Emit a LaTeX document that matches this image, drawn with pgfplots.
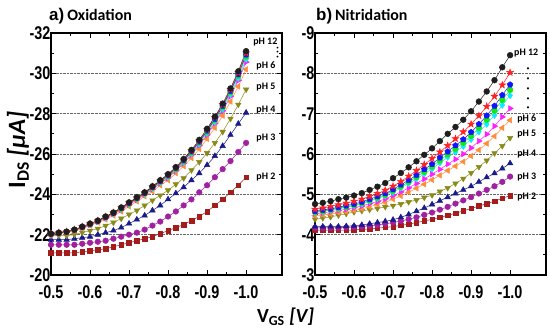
\documentclass[border=0pt]{standalone}
\usepackage{pgfplots}
\pgfplotsset{compat=1.18}
\usepackage{pgfplotstable}
\usepackage{fontspec}
\setmainfont{Carlito}
\newfontfamily\tickfont{Liberation Sans}[FakeStretch=0.78]
\newfontfamily\arialf{Liberation Sans}

\definecolor{c2}{HTML}{A51C1C}
\definecolor{c3}{HTML}{A020A0}
\definecolor{c4}{HTML}{1A1A8A}
\definecolor{c5}{HTML}{8A8A1A}
\definecolor{c6}{HTML}{FF8C3C}
\definecolor{c7}{HTML}{FF1EFF}
\definecolor{c8}{HTML}{14E6FF}
\definecolor{c9}{HTML}{14E614}
\definecolor{c10}{HTML}{1414FF}
\definecolor{c11}{HTML}{FF2020}
\definecolor{c12}{HTML}{1E1E1E}

\pgfdeclareplotmark{fstar}{%
  \pgfpathmoveto{\pgfpointpolar{90}{1.35\pgfplotmarksize}}%
  \pgfpathlineto{\pgfpointpolar{126}{0.55\pgfplotmarksize}}%
  \pgfpathlineto{\pgfpointpolar{162}{1.35\pgfplotmarksize}}%
  \pgfpathlineto{\pgfpointpolar{198}{0.55\pgfplotmarksize}}%
  \pgfpathlineto{\pgfpointpolar{234}{1.35\pgfplotmarksize}}%
  \pgfpathlineto{\pgfpointpolar{270}{0.55\pgfplotmarksize}}%
  \pgfpathlineto{\pgfpointpolar{306}{1.35\pgfplotmarksize}}%
  \pgfpathlineto{\pgfpointpolar{342}{0.55\pgfplotmarksize}}%
  \pgfpathlineto{\pgfpointpolar{18}{1.35\pgfplotmarksize}}%
  \pgfpathlineto{\pgfpointpolar{54}{0.55\pgfplotmarksize}}%
  \pgfpathclose\pgfusepathqfillstroke}

\pgfplotstableread{
x p2 p3 p4 p5 p6 p7 p8 p9 p10 p11 p12
-0.50 -21.1 -21.5 -21.75 -21.95 -22.0 -22.02 -22.03 -22.04 -22.04 -22.05 -22.05
-0.52 -21.1 -21.5 -21.75 -21.95 -22.05 -22.07 -22.08 -22.09 -22.09 -22.1 -22.1
-0.54 -21.1 -21.5 -21.75 -21.95 -22.1 -22.12 -22.13 -22.14 -22.14 -22.15 -22.15
-0.56 -21.1 -21.5 -21.8 -22.0 -22.2 -22.22 -22.23 -22.24 -22.24 -22.25 -22.25
-0.58 -21.15 -21.55 -21.85 -22.1 -22.3 -22.34 -22.36 -22.37 -22.38 -22.39 -22.4
-0.60 -21.2 -21.6 -21.9 -22.2 -22.45 -22.49 -22.51 -22.52 -22.53 -22.54 -22.55
-0.62 -21.25 -21.65 -22.0 -22.3 -22.6 -22.64 -22.66 -22.67 -22.68 -22.69 -22.7
-0.64 -21.3 -21.7 -22.1 -22.45 -22.75 -22.81 -22.83 -22.86 -22.87 -22.89 -22.9
-0.66 -21.4 -21.8 -22.2 -22.6 -22.95 -23.01 -23.03 -23.06 -23.07 -23.09 -23.1
-0.68 -21.5 -21.9 -22.35 -22.8 -23.15 -23.23 -23.26 -23.29 -23.31 -23.33 -23.35
-0.70 -21.6 -22.0 -22.55 -23.0 -23.4 -23.48 -23.51 -23.54 -23.56 -23.58 -23.6
-0.72 -21.7 -22.1 -22.75 -23.2 -23.65 -23.73 -23.76 -23.79 -23.81 -23.83 -23.85
-0.74 -21.8 -22.25 -22.95 -23.45 -23.9 -23.98 -24.01 -24.04 -24.06 -24.08 -24.1
-0.76 -21.9 -22.45 -23.2 -23.7 -24.15 -24.25 -24.29 -24.33 -24.35 -24.38 -24.4
-0.78 -22.05 -22.65 -23.45 -23.95 -24.45 -24.55 -24.59 -24.63 -24.65 -24.68 -24.7
-0.80 -22.2 -22.9 -23.75 -24.2 -24.7 -24.82 -24.87 -24.91 -24.94 -24.97 -25.0
-0.82 -22.35 -23.15 -24.05 -24.5 -25.05 -25.17 -25.22 -25.26 -25.29 -25.32 -25.35
-0.84 -22.5 -23.45 -24.35 -24.8 -25.4 -25.54 -25.59 -25.65 -25.68 -25.72 -25.75
-0.86 -22.7 -23.75 -24.7 -25.2 -25.8 -25.96 -26.02 -26.08 -26.12 -26.16 -26.2
-0.88 -22.9 -24.1 -25.05 -25.6 -26.25 -26.43 -26.5 -26.57 -26.61 -26.66 -26.7
-0.90 -23.15 -24.45 -25.45 -26.05 -26.75 -26.95 -27.03 -27.1 -27.15 -27.2 -27.25
-0.92 -23.45 -24.85 -25.9 -26.55 -27.3 -27.52 -27.6 -27.69 -27.74 -27.8 -27.85
-0.94 -23.75 -25.25 -26.4 -27.1 -27.9 -28.14 -28.23 -28.32 -28.38 -28.44 -28.5
-0.96 -24.1 -25.65 -26.95 -27.75 -28.6 -28.86 -28.96 -29.06 -29.12 -29.19 -29.25
-0.98 -24.45 -26.1 -27.5 -28.45 -29.35 -29.65 -29.76 -29.88 -29.95 -30.03 -30.1
-1.00 -24.85 -26.55 -28.05 -29.2 -30.2 -30.56 -30.7 -30.83 -30.92 -31.01 -31.1
}\datL

\pgfplotstableread{
x p2 p3 p4 p5 p6 p7 p8 p9 p10 p11 p12
-0.50 -4.12 -4.17 -4.2 -4.38 -4.47 -4.52 -4.55 -4.56 -4.58 -4.63 -4.76
-0.52 -4.11 -4.17 -4.2 -4.41 -4.49 -4.54 -4.57 -4.58 -4.61 -4.66 -4.79
-0.54 -4.11 -4.17 -4.2 -4.44 -4.51 -4.57 -4.61 -4.62 -4.64 -4.7 -4.83
-0.56 -4.11 -4.17 -4.2 -4.48 -4.55 -4.6 -4.64 -4.66 -4.68 -4.74 -4.88
-0.58 -4.11 -4.18 -4.21 -4.52 -4.57 -4.63 -4.68 -4.69 -4.72 -4.78 -4.92
-0.60 -4.12 -4.19 -4.22 -4.56 -4.6 -4.67 -4.72 -4.73 -4.76 -4.83 -4.97
-0.62 -4.13 -4.2 -4.24 -4.59 -4.64 -4.71 -4.76 -4.78 -4.81 -4.88 -5.03
-0.64 -4.14 -4.22 -4.27 -4.62 -4.69 -4.77 -4.83 -4.85 -4.88 -4.95 -5.11
-0.66 -4.16 -4.24 -4.3 -4.65 -4.75 -4.82 -4.89 -4.91 -4.95 -5.02 -5.19
-0.68 -4.18 -4.27 -4.33 -4.69 -4.8 -4.89 -4.96 -4.99 -5.02 -5.1 -5.28
-0.70 -4.2 -4.3 -4.37 -4.72 -4.88 -4.97 -5.05 -5.09 -5.12 -5.2 -5.4
-0.72 -4.23 -4.34 -4.43 -4.76 -4.96 -5.06 -5.16 -5.19 -5.24 -5.32 -5.53
-0.74 -4.26 -4.38 -4.5 -4.81 -5.05 -5.16 -5.27 -5.31 -5.35 -5.45 -5.67
-0.76 -4.3 -4.43 -4.58 -4.86 -5.15 -5.27 -5.38 -5.43 -5.48 -5.59 -5.82
-0.78 -4.34 -4.49 -4.66 -4.92 -5.25 -5.38 -5.51 -5.56 -5.62 -5.74 -5.98
-0.80 -4.38 -4.55 -4.75 -4.98 -5.36 -5.5 -5.63 -5.69 -5.75 -5.89 -6.14
-0.82 -4.43 -4.62 -4.84 -5.07 -5.47 -5.62 -5.78 -5.84 -5.91 -6.05 -6.32
-0.84 -4.48 -4.69 -4.93 -5.16 -5.59 -5.75 -5.92 -5.99 -6.06 -6.21 -6.5
-0.86 -4.53 -4.77 -5.02 -5.27 -5.7 -5.87 -6.05 -6.13 -6.21 -6.38 -6.67
-0.88 -4.59 -4.85 -5.11 -5.39 -5.81 -6.0 -6.19 -6.28 -6.36 -6.55 -6.85
-0.90 -4.65 -4.93 -5.2 -5.53 -5.95 -6.15 -6.36 -6.45 -6.54 -6.74 -7.06
-0.92 -4.71 -5.02 -5.31 -5.68 -6.1 -6.32 -6.55 -6.65 -6.74 -6.95 -7.3
-0.94 -4.77 -5.11 -5.42 -5.84 -6.26 -6.49 -6.74 -6.85 -6.95 -7.18 -7.55
-0.96 -4.83 -5.2 -5.52 -6.02 -6.44 -6.69 -6.96 -7.08 -7.19 -7.43 -7.83
-0.98 -4.9 -5.31 -5.64 -6.2 -6.65 -6.92 -7.21 -7.34 -7.46 -7.71 -8.15
-1.00 -4.97 -5.44 -5.77 -6.4 -6.84 -7.13 -7.45 -7.59 -7.72 -8.02 -8.45
}\datR

\pgfplotsset{
  s2/.style={color=c2, mark=square*, mark size=2.3pt},
  s3/.style={color=c3, mark=*, mark size=2.8pt},
  s4/.style={color=c4, mark=triangle*, mark size=3.2pt},
  s5/.style={color=c5, mark=triangle*, mark size=3.2pt, mark options={rotate=180}},
  s6/.style={color=c6, mark=triangle*, mark size=3.2pt, mark options={rotate=90}},
  s7/.style={color=c7, mark=triangle*, mark size=3.2pt, mark options={rotate=-90}},
  s8/.style={color=c8, mark=diamond*, mark size=3.2pt},
  s9/.style={color=c9, mark=*, mark size=2.9pt},
  s10/.style={color=c10, mark=pentagon*, mark size=3pt},
  s11/.style={color=c11, mark=fstar, mark size=2.6pt},
  s12/.style={color=c12, mark=*, mark size=2.9pt},
  myaxis/.style={
    scale only axis, width=231bp, height=242bp,
    x dir=reverse, y dir=reverse,
    xmin=-1.092, xmax=-0.5,
    xtick={-0.5,-0.6,-0.7,-0.8,-0.9,-1.0},
    xticklabels={-0.5,-0.6,-0.7,-0.8,-0.9,-1.0},
    minor x tick num=1, minor y tick num=1,
    tick align=inside,
    major tick length=5bp, minor tick length=3bp,
    every tick/.style={black, line width=0.8pt},
    axis line style={black, line width=1.1pt},
    ymajorgrids, major grid style={densely dotted, black!60, line width=0.6pt},
    every tick label/.append style={font=\tickfont\bfseries\fontsize{18.5}{18.5}\selectfont},
    every x tick label/.append style={yshift=-9bp, inner ysep=1pt},
    yticklabel style={inner xsep=0.5pt},
    clip=false,
    every axis plot/.append style={line width=0.5pt, mark options={solid}},
  },
}

\begin{document}
\begin{tikzpicture}
\path[use as bounding box] (-51bp,-54bp) rectangle (499bp,275bp);

\begin{axis}[myaxis, at={(0bp,0bp)}, anchor=south west,
  ymin=-32, ymax=-20,
  ytick={-32,-30,-28,-26,-24,-22,-20},
  yticklabels={-32,-30,-28,-26,-24,-22,-20}]
\addplot[s2] table[x=x,y=p2] \datL;
\addplot[s3] table[x=x,y=p3] \datL;
\addplot[s4] table[x=x,y=p4] \datL;
\addplot[s5] table[x=x,y=p5] \datL;
\addplot[s6] table[x=x,y=p6] \datL;
\addplot[s7] table[x=x,y=p7] \datL;
\addplot[s8] table[x=x,y=p8] \datL;
\addplot[s9] table[x=x,y=p9] \datL;
\addplot[s10] table[x=x,y=p10] \datL;
\addplot[s11] table[x=x,y=p11] \datL;
\addplot[s12] table[x=x,y=p12] \datL;
\begin{scope}[every node/.style={anchor=west, inner sep=0pt, font=\bfseries\fontsize{10}{10}\selectfont}]
\node at (axis cs:-1.018,-31.57) {pH 12};
\node at (axis cs:-1.026,-30.38) {pH 6};
\node at (axis cs:-1.026,-29.31) {pH 5};
\node at (axis cs:-1.026,-28.18) {pH 4};
\node at (axis cs:-1.026,-26.78) {pH 3};
\node at (axis cs:-1.026,-24.85) {pH 2};
\end{scope}
\begin{scope}[every node/.style={inner sep=0pt, font=\fontsize{5}{5}\selectfont}]
\node at (axis cs:-1.081,-31.24) {\textbullet};
\node at (axis cs:-1.081,-31.02) {\textbullet};
\node at (axis cs:-1.081,-30.79) {\textbullet};
\end{scope}
\end{axis}

\begin{axis}[myaxis, at={(264bp,0bp)}, anchor=south west,
  ymin=-9, ymax=-3,
  ytick={-9,-8,-7,-6,-5,-4,-3},
  yticklabels={-9,-8,-7,-6,-5,-4,-3}]
\addplot[s2] table[x=x,y=p2] \datR;
\addplot[s3] table[x=x,y=p3] \datR;
\addplot[s4] table[x=x,y=p4] \datR;
\addplot[s5] table[x=x,y=p5] \datR;
\addplot[s6] table[x=x,y=p6] \datR;
\addplot[s7] table[x=x,y=p7] \datR;
\addplot[s8] table[x=x,y=p8] \datR;
\addplot[s9] table[x=x,y=p9] \datR;
\addplot[s10] table[x=x,y=p10] \datR;
\addplot[s11] table[x=x,y=p11] \datR;
\addplot[s12] table[x=x,y=p12] \datR;
\begin{scope}[every node/.style={anchor=west, inner sep=0pt, font=\bfseries\fontsize{10}{10}\selectfont}]
\node at (axis cs:-1.010,-8.5) {pH 12};
\node at (axis cs:-1.018,-6.87) {pH 6};
\node at (axis cs:-1.018,-6.5) {pH 5};
\node at (axis cs:-1.018,-6.0) {pH 4};
\node at (axis cs:-1.018,-5.42) {pH 3};
\node at (axis cs:-1.018,-4.94) {pH 2};
\end{scope}
\begin{scope}[every node/.style={inner sep=0pt, font=\fontsize{6}{6}\selectfont}]
\node at (axis cs:-1.046,-8.1) {\textbullet};
\node at (axis cs:-1.046,-7.85) {\textbullet};
\node at (axis cs:-1.046,-7.6) {\textbullet};
\node at (axis cs:-1.046,-7.37) {\textbullet};
\node at (axis cs:-1.046,-7.13) {\textbullet};
\end{scope}
\end{axis}

% titles
\node[anchor=base west, inner sep=0pt] at (-2bp,254bp)
  {{\arialf\bfseries\fontsize{17}{17}\selectfont a)}\hspace{3bp}{\bfseries\fontsize{16}{16}\selectfont Oxidation}};
\node[anchor=base west, inner sep=0pt] at (265bp,254bp)
  {{\arialf\bfseries\fontsize{17}{17}\selectfont b)}\hspace{3bp}{\bfseries\fontsize{16}{16}\selectfont Nitridation}};
% axis labels
\node[rotate=90, inner sep=0pt, font=\bfseries\fontsize{25}{25}\selectfont] at (-33bp,125bp)
  {I\textsubscript{DS} \textit{[μA]}};
\node[inner sep=0pt, font=\bfseries\fontsize{20}{20}\selectfont] at (234.5bp,-42bp)
  {V\textsubscript{GS} \textit{[V]}};
\end{tikzpicture}
\end{document}
